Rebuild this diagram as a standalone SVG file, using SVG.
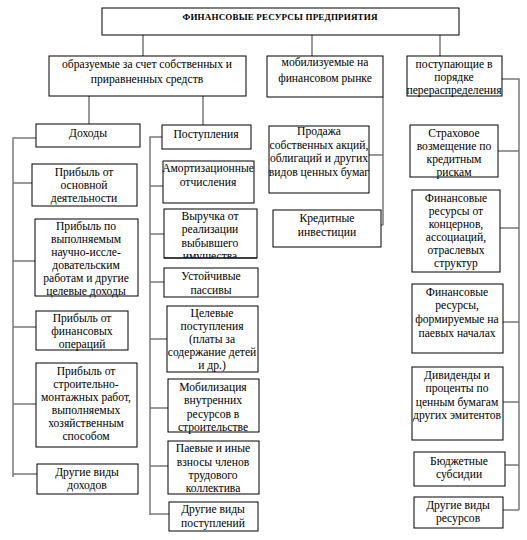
<svg xmlns="http://www.w3.org/2000/svg" width="527" height="540" viewBox="0 0 527 540">
<style>
rect{fill:#fff;stroke:#000;stroke-width:1}
text{font-family:"Liberation Serif","DejaVu Serif",serif;font-size:11.6px;fill:#000;text-anchor:middle}
.t{font-weight:bold;font-size:9px}
#connectors path{fill:none;stroke:#7a7a7a;stroke-width:1.5}
</style>
<defs><clipPath id="c2"><rect x="164" y="209" width="93" height="49"/></clipPath></defs>
<rect x="0" y="0" width="527" height="540" style="stroke:none"/>
<g id="connectors">
<path d="M143 35V56M312 35V56M440 35V56M89 96V124M203 96V125"/>
<path d="M369 155H383M383 97V225M381 225H383"/>
<path d="M502 79H519V510M498 151H519M500 228H519M503 322H519M503 402H519M505 465H519M503 510H519"/>
<path d="M36 138H13V477M13 183H32M13 261H35M13 327H36M13 404H36M13 474H37"/>
<path d="M162 137H150V515M150 186H163M150 234H164M150 282H164M150 339H167M150 408H168M150 466H168M150 514H169"/>
</g>
<g id="root"><rect x="102" y="8" width="357" height="27"/><text class="t" x="280" y="20" textLength="195">ФИНАНСОВЫЕ РЕСУРСЫ  ПРЕДПРИЯТИЯ</text></g>
<g id="own"><rect x="49" y="56" width="197" height="40"/><text x="147" y="68">образуемые за счет собственных  и</text><text x="147" y="83">приравненных средств</text></g>
<g id="market"><rect x="267" y="56" width="116" height="41"/><text x="325" y="66">мобилизуемые на</text><text x="325" y="82">финансовом рынке</text></g>
<g id="redistr"><rect x="407" y="56" width="95" height="40"/><text x="454" y="68">поступающие в</text><text x="454" y="81">порядке</text><text x="454" y="94">перераспределения</text></g>
<g id="income"><rect x="36" y="124" width="104" height="23"/><text x="88" y="137">Доходы</text></g>
<g id="receipts"><rect x="162" y="125" width="89" height="24"/><text x="206" y="138">Поступления</text></g>
<g id="l1"><rect x="32" y="164" width="105" height="42"/><text x="84" y="176">Прибыль от</text><text x="84" y="189">основной</text><text x="84" y="202">деятельности</text></g>
<g id="l2"><rect x="35" y="219" width="103" height="77"/><text x="86" y="230">Прибыль по</text><text x="86" y="243">выполняемым</text><text x="86" y="256">научно-иссле-</text><text x="86" y="269">довательским</text><text x="86" y="282">работам и другие</text><text x="86" y="295">целевые доходы</text></g>
<g id="l3"><rect x="36" y="311" width="92" height="39"/><text x="82" y="322">Прибыль от</text><text x="82" y="335">финансовых</text><text x="82" y="348">операций</text></g>
<g id="l4"><rect x="36" y="363" width="101" height="84"/><text x="86" y="375">Прибыль от</text><text x="86" y="388">строительно-</text><text x="86" y="401">монтажных работ,</text><text x="86" y="414">выполняемых</text><text x="86" y="427">хозяйственным</text><text x="86" y="440">способом</text></g>
<g id="l5"><rect x="37" y="464" width="101" height="30"/><text x="87" y="476">Другие виды</text><text x="87" y="489">доходов</text></g>
<g id="p1"><rect x="163" y="161" width="91" height="42"/><text x="208" y="172">Амортизационные</text><text x="208" y="186">отчисления</text></g>
<g id="p2"><rect x="164" y="209" width="93" height="49"/><g clip-path="url(#c2)"><text x="210" y="220">Выручка от</text><text x="210" y="233">реализации</text><text x="210" y="247">выбывшего</text><text x="210" y="260">имущества</text></g><path d="M164 258H257" stroke="#000"/></g>
<g id="p3"><rect x="164" y="268" width="94" height="29"/><text x="211" y="280">Устойчивые</text><text x="211" y="294">пассивы</text></g>
<g id="p4"><rect x="167" y="306" width="91" height="66"/><text x="212" y="317">Целевые</text><text x="212" y="330">поступления</text><text x="212" y="343">(платы за</text><text x="212" y="356">содержание детей</text><text x="212" y="369">и др.)</text></g>
<g id="p5"><rect x="168" y="379" width="91" height="53"/><text x="213" y="391">Мобилизация</text><text x="213" y="404">внутренних</text><text x="213" y="418">ресурсов в</text><text x="213" y="431">строительстве</text></g>
<g id="p6"><rect x="168" y="441" width="91" height="53"/><text x="213" y="452">Паевые и иные</text><text x="213" y="466">взносы членов</text><text x="213" y="479">трудового</text><text x="213" y="492">коллектива</text></g>
<g id="p7"><rect x="169" y="502" width="89" height="29"/><text x="213" y="513">Другие виды</text><text x="213" y="527">поступлений</text></g>
<g id="m1"><rect x="269" y="126" width="100" height="67"/><text x="319" y="135">Продажа</text><text x="319" y="149">собственных акций,</text><text x="319" y="162">облигаций и других</text><text x="319" y="176">видов ценных бумаг</text></g>
<g id="m2"><rect x="273" y="210" width="108" height="37"/><text x="327" y="222">Кредитные</text><text x="327" y="236">инвестиции</text></g>
<g id="r1"><rect x="410" y="125" width="88" height="52"/><text x="454" y="137">Страховое</text><text x="454" y="150">возмещение по</text><text x="454" y="163">кредитным</text><text x="454" y="176">рискам</text></g>
<g id="r2"><rect x="412" y="190" width="88" height="82"/><text x="456" y="202">Финансовые</text><text x="456" y="215">ресурсы от</text><text x="456" y="228">концернов,</text><text x="456" y="241">ассоциаций,</text><text x="456" y="254">отраслевых</text><text x="456" y="267">структур</text></g>
<g id="r3"><rect x="412" y="284" width="91" height="69"/><text x="457" y="296">Финансовые</text><text x="457" y="309">ресурсы,</text><text x="457" y="323">формируемые на</text><text x="457" y="337">паевых  началах</text></g>
<g id="r4"><rect x="412" y="367" width="91" height="73"/><text x="457" y="379">Дивиденды и</text><text x="457" y="392">проценты по</text><text x="457" y="406">ценным  бумагам</text><text x="457" y="419">других эмитентов</text></g>
<g id="r5"><rect x="414" y="452" width="91" height="34"/><text x="459" y="465">Бюджетные</text><text x="459" y="478">субсидии</text></g>
<g id="r6"><rect x="414" y="497" width="89" height="31"/><text x="458" y="509">Другие виды</text><text x="458" y="522">ресурсов</text></g>
</svg>
